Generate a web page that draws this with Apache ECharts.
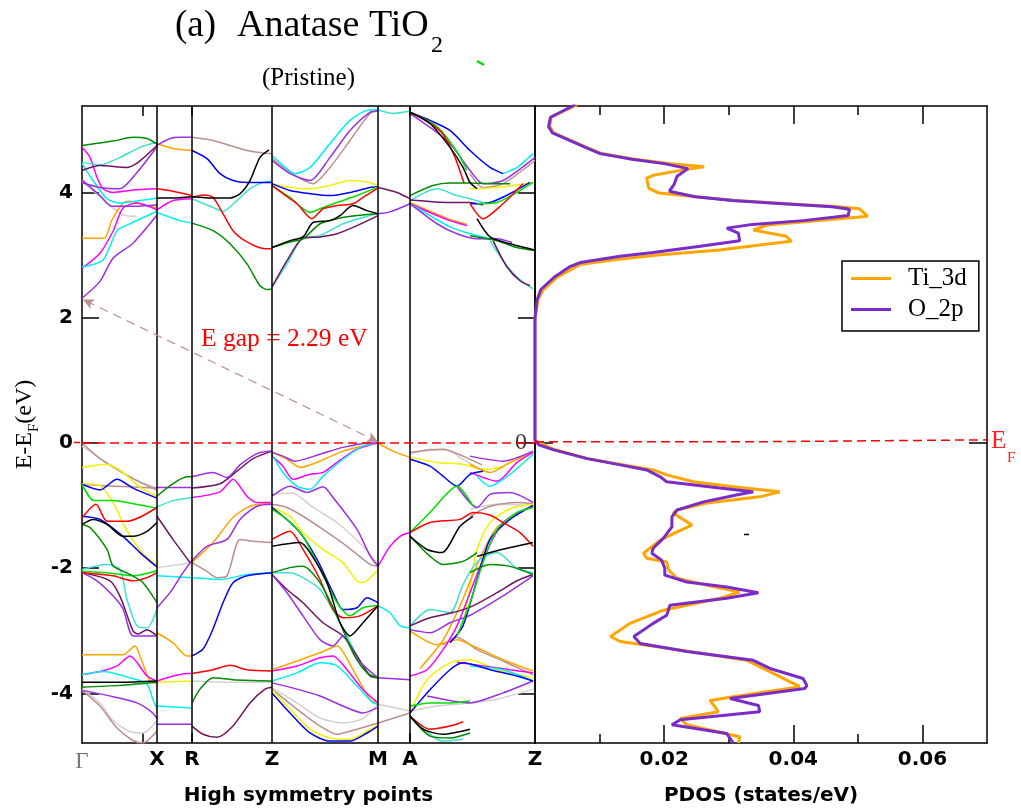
<!DOCTYPE html>
<html>
<head>
<meta charset="utf-8">
<script src="https://cdn.jsdelivr.net/npm/echarts@6/dist/echarts.min.js"></script>
<style>html,body{margin:0;padding:0;background:#fff;}#c{width:1021px;height:812px;}</style>
</head>
<body>
<div id="c"></div>
<script>
// ---------- axis data ----------
const kPoints = [0, 0.75, 1.10, 1.90, 2.96, 3.28, 4.53];
const kLabels = ['Γ', 'X', 'R', 'Z', 'M', 'A', 'Z'];
const kMinorTicks = [0.61, 1.10, 3.28];
const eTicks = [-4, -2, 0, 2, 4];
const pdosMajor = [0.02, 0.04, 0.06];
const pdosMinor = [0.01, 0.03, 0.05];
const eGap = 2.29;

// ---------- band structure (k, E) polylines grouped by colour ----------
const bandGray = [
  [[0,4.17],[0.18,3.93],[0.41,3.64],[0.55,3.62]],
  [[0,-0.05],[0.25,-0.32],[0.48,-0.55],[0.75,-0.72]],
  [[0.75,-1.99],[0.98,-1.94],[1.10,-1.91]],
  [[1.90,-0.82],[2.10,-0.80],[2.31,-1.03],[2.55,-1.27],[2.81,-1.65],[2.96,-1.94]],
  [[1.10,-3.80],[1.50,-3.82],[1.90,-3.82]],
  [[0,-3.93],[0.18,-4.15],[0.31,-4.43],[0.48,-4.61],[0.61,-4.63],[0.75,-4.43]],
  [[1.90,-3.91],[2.15,-4.15],[2.38,-4.39],[2.61,-4.47],[2.81,-4.40],[2.96,-4.17]],
  [[2.96,-4.17],[3.28,-4.28]],
  [[3.28,-0.18],[3.48,-0.10],[3.68,-0.13],[3.81,-0.26],[3.95,-0.39]],
  [[3.88,-1.06],[4.15,-0.98],[4.51,-1.00]],
  [[3.28,-4.28],[3.55,-4.20],[3.88,-4.15],[4.15,-4.09],[4.51,-3.93]]
];
const bandBrown = [
  [[1.10,4.88],[1.31,4.83],[1.48,4.75],[1.65,4.67],[1.81,4.63],[1.90,4.62]],
  [[1.90,4.54],[2.08,4.32],[2.31,4.14],[2.48,4.40],[2.68,4.83],[2.88,5.26],[2.96,5.30]],
  [[3.88,4.30],[4.01,4.08],[4.21,4.14],[4.53,4.51]],
  [[0,0.0],[0.18,-0.25],[0.31,-0.38],[0.55,-0.60],[0.75,-0.75]],
  [[0,-0.66],[0.18,-0.68],[0.48,-0.70],[0.75,-0.72]],
  [[1.10,-1.91],[1.25,-2.05],[1.35,-2.15],[1.45,-2.12],[1.58,-1.54],[1.71,-1.57],[1.90,-1.59]],
  [[1.90,-0.98],[2.05,-1.03],[2.21,-1.17],[2.41,-1.38],[2.65,-1.65],[2.88,-1.94],[2.96,-1.97]],
  [[0,-3.95],[0.18,-4.20],[0.35,-4.55],[0.51,-4.75],[0.61,-4.79],[0.75,-4.60]],
  [[1.90,-3.93],[2.15,-4.25],[2.38,-4.52],[2.55,-4.65],[2.75,-4.57],[2.96,-4.47]],
  [[2.96,-4.47],[3.28,-4.31]],
  [[3.28,-0.15],[3.61,-0.10],[3.81,-0.21],[4.00,-0.35]],
  [[3.88,-1.17],[4.08,-1.01],[4.35,-0.95],[4.51,-0.97]],
  [[3.61,-3.22],[3.75,-3.10],[3.95,-3.30],[4.21,-3.48],[4.51,-3.70]]
];
const bandYellow = [
  [[1.90,4.14],[2.08,4.08],[2.28,4.06],[2.48,4.11],[2.68,4.19],[2.88,4.16],[2.96,4.11]],
  [[3.88,4.06],[4.15,4.08],[4.51,4.16]],
  [[0,-0.39],[0.25,-0.34],[0.41,-0.47],[0.58,-0.71],[0.75,-0.85]],
  [[0,-0.65],[0.18,-0.68],[0.31,-0.95],[0.45,-1.40],[0.60,-1.75],[0.75,-1.95]],
  [[0.75,-3.82],[1.10,-3.80]],
  [[1.90,-1.03],[2.08,-1.17],[2.21,-1.43],[2.41,-1.70],[2.61,-1.91],[2.78,-2.23],[2.85,-2.20],[2.96,-2.02]],
  [[1.90,-3.93],[2.08,-4.25],[2.28,-4.57],[2.48,-4.71],[2.68,-4.73],[2.88,-4.57],[2.96,-4.50]],
  [[3.28,-0.23],[3.55,-0.31],[3.81,-0.34],[4.01,-0.42],[4.21,-0.37],[4.48,-0.15]],
  [[3.81,-2.92],[3.88,-2.30],[3.95,-1.70],[4.08,-1.27],[4.28,-1.05],[4.51,-0.98]],
  [[3.28,-4.31],[3.45,-3.78],[3.68,-3.51],[3.88,-3.46],[4.15,-3.62],[4.51,-3.75]]
];
const bandOrange = [
  [[0,3.27],[0.22,3.27],[0.30,3.56],[0.41,3.83],[0.48,3.86],[0.62,3.80],[0.75,3.75]],
  [[0.75,4.78],[0.91,4.70],[1.10,4.67]],
  [[3.28,3.84],[3.48,3.70],[3.68,3.57],[3.85,3.49]],
  [[0,-3.38],[0.41,-3.38],[0.53,-3.24],[0.58,-3.40],[0.68,-3.80],[0.75,-3.83]],
  [[0.75,-3.03],[0.91,-3.19],[1.05,-3.40],[1.10,-3.40]],
  [[1.10,-1.91],[1.31,-1.59],[1.51,-1.19],[1.68,-1.01],[1.90,-0.95]],
  [[1.90,-0.15],[2.05,-0.26],[2.18,-0.39],[2.38,-0.29],[2.61,-0.13],[2.88,-0.02],[2.96,0.0]],
  [[1.90,-3.62],[2.15,-3.48],[2.38,-3.35],[2.55,-3.24],[2.71,-3.62],[2.88,-4.09],[2.96,-4.15]],
  [[2.96,0.0],[3.11,-0.13],[3.28,-0.23]],
  [[3.88,-0.34],[4.08,-0.47],[4.28,-0.31],[4.51,-0.15]],
  [[3.38,-3.60],[3.61,-3.15],[3.78,-2.60],[3.95,-1.95],[4.15,-1.35],[4.51,-1.00]],
  [[3.28,-3.00],[3.55,-3.22],[3.75,-3.14],[3.95,-3.27],[4.21,-3.46],[4.51,-3.64]]
];
const bandMagenta = [
  [[0,4.72],[0.08,4.56],[0.15,4.24],[0.21,4.06],[0.31,4.00],[0.51,4.04],[0.75,4.06]],
  [[0,2.79],[0.18,3.03],[0.31,3.38],[0.41,3.75],[0.55,3.83],[0.75,3.72]],
  [[0.75,3.72],[0.91,3.87],[1.10,3.90]],
  [[3.28,3.82],[3.48,3.68],[3.68,3.55],[3.85,3.47]],
  [[0,-3.70],[0.18,-3.65],[0.35,-3.56],[0.48,-3.40],[0.65,-3.72],[0.75,-3.80]],
  [[0.75,-3.80],[0.91,-3.72],[1.05,-3.68],[1.10,-3.68]],
  [[1.10,-0.87],[1.38,-0.78],[1.51,-0.58],[1.65,-0.85],[1.75,-0.95],[1.90,-0.95]],
  [[1.90,-0.21],[2.01,-0.37],[2.11,-0.58],[2.28,-0.50],[2.41,-0.47],[2.55,-0.31],[2.75,-0.10],[2.96,0.0]],
  [[1.90,-3.64],[2.15,-3.56],[2.38,-3.43],[2.51,-3.40],[2.65,-3.62],[2.81,-3.94],[2.96,-4.15]],
  [[2.96,-1.97],[3.08,-1.65],[3.18,-1.49],[3.28,-1.43]],
  [[3.88,-0.47],[4.15,-0.61],[4.35,-0.31],[4.51,-0.15]],
  [[3.28,-3.72],[3.45,-3.62],[3.61,-3.30],[3.75,-2.92],[3.88,-2.39],[4.01,-1.86],[4.21,-1.27],[4.51,-1.00]],
  [[3.75,-3.50],[4.01,-3.56],[4.28,-3.62],[4.51,-3.67]]
];
const bandCyan = [
  [[0,4.46],[0.11,4.19],[0.25,3.90],[0.38,3.83],[0.58,3.87],[0.75,3.91]],
  [[0,2.81],[0.21,2.92],[0.35,3.39],[0.48,3.50],[0.75,3.70]],
  [[0.75,3.68],[0.98,3.55],[1.10,3.51]],
  [[1.90,4.59],[2.01,4.43],[2.13,4.30],[2.28,4.40],[2.48,4.78],[2.68,5.15],[2.85,5.31],[2.96,5.32]],
  [[4.21,4.30],[4.35,4.40],[4.51,4.62]],
  [[3.28,3.82],[3.48,3.63],[3.68,3.45],[3.88,3.34],[4.08,3.26]],
  [[1.90,-0.18],[2.01,-0.47],[2.15,-0.69],[2.28,-0.74],[2.41,-0.53],[2.61,-0.26],[2.81,-0.05],[2.96,0.0]],
  [[0.75,-2.12],[1.10,-2.15],[1.38,-2.18],[1.65,-2.10],[1.90,-2.07]],
  [[0,-3.70],[0.21,-3.65],[0.48,-3.75],[0.65,-3.85],[0.71,-4.10],[0.75,-4.25]],
  [[0.75,-4.20],[1.10,-4.23]],
  [[1.90,-3.80],[2.15,-3.67],[2.38,-3.51],[2.55,-3.56],[2.75,-3.88],[2.91,-4.15],[2.96,-4.17]],
  [[2.96,-2.60],[3.08,-2.71],[3.18,-2.92],[3.28,-2.95]],
  [[3.95,-0.53],[4.08,-0.69],[4.28,-0.50],[4.51,-0.18]],
  [[3.88,-3.56],[4.21,-3.62],[4.51,-3.80]]
];
const bandTurquoise = [
  [[0,4.48],[0.18,4.44],[0.38,4.56],[0.58,4.72],[0.75,4.80]],
  [[1.10,3.90],[1.31,3.76],[1.41,3.70],[1.55,3.87],[1.68,4.06],[1.81,4.16],[1.90,4.18]],
  [[1.90,2.49],[2.05,2.86],[2.20,3.26],[2.38,3.31],[2.61,3.50],[2.88,3.63],[2.96,3.66]],
  [[2.96,5.32],[3.11,5.26],[3.28,5.30]],
  [[3.28,3.87],[3.55,4.06],[3.75,3.95],[3.88,3.90],[4.01,3.84]],
  [[4.08,3.23],[4.21,2.91],[4.35,2.65],[4.51,2.46]],
  [[0,-2.02],[0.25,-1.94],[0.38,-2.02],[0.45,-2.50],[0.55,-2.92],[0.65,-2.95],[0.75,-2.65]],
  [[0.75,-1.02],[0.91,-0.92],[1.10,-0.87]],
  [[1.90,-2.07],[2.08,-2.07],[2.21,-2.15],[2.38,-2.34],[2.58,-2.87],[2.75,-3.40],[2.88,-3.70],[2.96,-3.75]],
  [[3.28,-2.92],[3.48,-2.66],[3.68,-2.71],[3.81,-2.26],[3.95,-1.90],[4.15,-1.75],[4.35,-2.00],[4.51,-2.07]],
  [[3.28,-4.36],[3.61,-4.76],[3.81,-4.73]]
];
const bandMaroon = [
  [[0,4.35],[0.18,4.43],[0.45,4.40],[0.56,4.48],[0.75,4.75]],
  [[1.90,2.49],[2.05,2.91],[2.20,3.26],[2.38,3.29],[2.55,3.34],[2.75,3.47],[2.96,3.63]],
  [[2.96,4.08],[3.15,4.00],[3.28,3.90]],
  [[3.28,3.88],[3.68,3.84],[3.88,3.84],[4.01,3.80]],
  [[4.11,3.23],[4.25,2.81],[4.38,2.59],[4.48,2.51]],
  [[0,-2.07],[0.28,-2.20],[0.38,-2.45],[0.51,-3.00],[0.56,-3.05],[0.65,-2.98],[0.75,-3.08]],
  [[0.75,-1.17],[0.91,-1.54],[1.08,-1.91]],
  [[1.10,-0.72],[1.38,-0.65],[1.55,-0.45],[1.71,-0.25],[1.90,-0.13]],
  [[1.10,-4.52],[1.21,-4.65],[1.35,-4.70],[1.51,-4.52],[1.68,-4.15],[1.83,-3.93],[1.90,-3.90]],
  [[1.90,-2.10],[2.05,-2.34],[2.21,-2.55],[2.41,-2.87],[2.61,-3.08],[2.75,-3.40],[2.88,-3.72],[2.96,-3.75]],
  [[3.28,-2.92],[3.48,-2.79],[3.68,-2.72],[3.88,-2.62],[4.15,-2.39],[4.35,-2.20],[4.51,-2.10]]
];
const bandViolet = [
  [[0,4.16],[0.18,4.08],[0.38,4.06],[0.55,4.32],[0.75,4.73]],
  [[0.75,4.75],[0.88,4.86],[0.98,4.88],[1.10,4.88]],
  [[0,4.20],[0.18,3.95],[0.30,3.78],[0.50,3.78],[0.75,3.80]],
  [[0,2.31],[0.18,2.58],[0.31,2.95],[0.51,3.19],[0.75,3.64]],
  [[1.90,4.51],[2.08,4.30],[2.28,4.19],[2.48,4.56],[2.68,4.99],[2.88,5.28],[2.96,5.30]],
  [[2.96,3.66],[3.08,3.69],[3.28,3.82]],
  [[3.28,5.26],[3.48,5.04],[3.68,4.78],[3.88,4.35],[4.01,4.14],[4.21,4.19],[4.53,4.56]],
  [[3.28,3.82],[3.55,3.50],[3.75,3.34],[3.95,3.26],[4.15,3.26],[4.30,3.20]],
  [[0,-2.07],[0.15,-2.20],[0.31,-2.44],[0.41,-2.65],[0.51,-3.08],[0.65,-3.08],[0.75,-3.08]],
  [[0,-3.95],[0.31,-4.05],[0.55,-4.15],[0.70,-4.30],[0.75,-4.40]],
  [[0.75,-0.71],[1.10,-0.71]],
  [[0.75,-4.49],[1.10,-4.49]],
  [[1.10,-0.54],[1.31,-0.47],[1.45,-0.55],[1.58,-0.35],[1.75,-0.17],[1.90,-0.13]],
  [[0.75,-2.63],[0.88,-2.39],[1.01,-2.07],[1.10,-1.88],[1.25,-1.65],[1.45,-1.54],[1.58,-1.22],[1.75,-1.01],[1.90,-0.98]],
  [[1.90,-0.15],[2.01,-0.21],[2.13,-0.29],[2.38,-0.18],[2.61,-0.07],[2.88,0.0],[2.96,0.0]],
  [[1.90,-0.85],[2.08,-0.69],[2.25,-0.79],[2.41,-0.70],[2.51,-0.87],[2.75,-1.38],[2.88,-1.80],[2.96,-1.97]],
  [[1.90,-2.10],[2.05,-2.39],[2.21,-2.76],[2.38,-3.14],[2.51,-3.24],[2.61,-3.08],[2.75,-3.45],[2.96,-3.75]],
  [[1.90,-3.83],[2.15,-3.93],[2.38,-4.04],[2.61,-4.20],[2.81,-4.31],[2.95,-4.23]],
  [[2.96,-3.75],[3.28,-3.78]],
  [[3.88,-0.21],[4.21,-0.29],[4.51,-0.13]],
  [[3.75,-0.69],[3.95,-1.03],[4.08,-0.82],[4.28,-0.79],[4.51,-0.95]],
  [[3.28,-2.98],[3.48,-3.03],[3.68,-2.87],[3.88,-2.75],[4.21,-2.44],[4.51,-2.12]],
  [[3.45,-4.04],[3.88,-4.15],[4.21,-3.99],[4.51,-3.80]]
];
const bandBlue = [
  [[1.10,4.67],[1.25,4.54],[1.38,4.30],[1.51,4.19],[1.65,4.16],[1.83,4.16],[1.90,4.16]],
  [[1.90,4.14],[2.08,4.03],[2.28,3.98],[2.48,3.95],[2.68,4.00],[2.88,4.08],[2.96,4.09]],
  [[3.28,5.28],[3.48,5.15],[3.68,4.99],[3.88,4.67],[4.08,4.40],[4.21,4.30]],
  [[3.88,3.82],[4.08,3.84],[4.28,3.98],[4.48,4.16]],
  [[0,-0.66],[0.18,-0.75],[0.35,-0.58],[0.51,-0.72],[0.75,-0.88]],
  [[0,-1.17],[0.18,-1.22],[0.41,-1.49],[0.58,-1.75],[0.75,-1.98]],
  [[1.10,-3.40],[1.21,-3.29],[1.31,-2.97],[1.41,-2.55],[1.51,-2.23],[1.65,-2.12],[1.90,-2.07]],
  [[1.90,-1.03],[2.01,-1.17],[2.18,-1.43],[2.35,-1.86],[2.51,-2.39],[2.61,-2.66],[2.75,-2.63],[2.85,-2.47],[2.96,-2.55]],
  [[1.90,-3.99],[2.08,-4.31],[2.28,-4.63],[2.48,-4.76],[2.68,-4.76],[2.85,-4.63],[2.96,-4.52]],
  [[3.28,-0.26],[3.48,-0.37],[3.61,-0.53],[3.75,-0.69],[3.88,-0.50],[4.01,-0.45]],
  [[3.68,-3.19],[3.81,-2.92],[3.95,-2.18],[4.08,-1.54],[4.28,-1.22],[4.51,-1.00]],
  [[3.28,-4.31],[3.48,-3.94],[3.68,-3.62],[3.81,-3.51],[4.08,-3.62],[4.35,-3.72],[4.51,-3.80]]
];
const bandGreen = [
  [[1.90,4.11],[2.08,3.92],[2.28,3.68],[2.38,3.74],[2.55,3.84],[2.75,3.95],[2.95,4.08]],
  [[3.28,5.28],[3.55,5.05],[3.75,4.65],[3.85,4.35]],
  [[3.95,3.82],[4.15,3.84],[4.35,4.00],[4.51,4.16]],
  [[0,-0.66],[0.12,-0.92],[0.31,-0.92],[0.51,-0.97],[0.75,-1.04]],
  [[0,-2.05],[0.25,-2.07],[0.51,-2.12],[0.75,-2.04]],
  [[1.90,-1.06],[2.05,-1.22],[2.21,-1.49],[2.38,-2.02],[2.55,-2.55],[2.68,-2.76],[2.81,-2.63],[2.96,-2.60]],
  [[3.28,-1.43],[3.48,-1.11],[3.75,-0.69],[3.91,-1.01]],
  [[3.75,-3.08],[3.88,-2.55],[4.01,-1.91],[4.15,-1.38],[4.35,-1.11],[4.51,-1.03]],
  [[3.28,-4.20],[3.48,-4.15],[3.68,-4.15],[3.88,-4.12]]
];
const bandRed = [
  [[0.75,4.06],[0.91,4.02],[1.10,3.95]],
  [[1.10,3.92],[1.21,3.96],[1.31,3.92],[1.41,3.66],[1.51,3.39],[1.65,3.21],[1.83,3.10],[1.90,3.10]],
  [[1.90,4.11],[2.01,3.98],[2.15,3.82],[2.30,3.58],[2.41,3.74],[2.55,3.79],[2.71,3.82],[2.81,3.92],[2.95,4.06]],
  [[3.28,5.28],[3.45,5.14],[3.60,4.95],[3.72,4.60],[3.82,4.15]],
  [[3.88,3.82],[4.01,3.58],[4.21,3.82],[4.41,4.14]],
  [[0,-1.20],[0.14,-0.98],[0.25,-1.25],[0.45,-1.25],[0.75,-1.03]],
  [[0,-2.07],[0.31,-2.12],[0.51,-2.20],[0.65,-2.15],[0.75,-2.07]],
  [[1.10,-3.68],[1.31,-3.62],[1.48,-3.55],[1.65,-3.62],[1.90,-3.64]],
  [[1.90,-1.54],[2.08,-1.41],[2.21,-1.70],[2.38,-2.18],[2.51,-2.66],[2.61,-2.79],[2.78,-2.76],[2.96,-2.60]],
  [[3.28,-1.43],[3.48,-1.27],[3.78,-1.22],[3.91,-1.11],[4.08,-1.15],[4.21,-1.27],[4.38,-1.43],[4.51,-1.65]],
  [[3.28,-4.36],[3.48,-4.57],[3.68,-4.52],[3.81,-4.45]]
];
const bandDarkGreen = [
  [[0,4.75],[0.31,4.82],[0.51,4.88],[0.65,4.86],[0.75,4.77]],
  [[1.10,3.51],[1.31,3.39],[1.48,3.18],[1.65,2.86],[1.78,2.51],[1.85,2.45],[1.90,2.46]],
  [[1.90,3.12],[2.08,3.21],[2.21,3.26],[2.38,3.50],[2.55,3.58],[2.75,3.63],[2.96,3.66]],
  [[3.28,3.95],[3.51,4.11],[3.68,4.15],[3.88,4.15],[4.08,4.14],[4.28,4.14]],
  [[3.88,3.31],[4.15,3.23],[4.35,3.12],[4.53,3.07]],
  [[0,-1.30],[0.08,-1.35],[0.25,-1.70],[0.31,-1.96],[0.48,-2.10],[0.61,-2.23],[0.75,-2.55]],
  [[0,-3.90],[0.38,-3.87],[0.75,-3.82]],
  [[0.75,-0.85],[0.91,-0.65],[1.05,-0.54],[1.10,-0.54]],
  [[1.10,-4.15],[1.18,-3.93],[1.31,-3.75],[1.51,-3.78],[1.90,-3.80]],
  [[1.90,-2.07],[2.08,-1.99],[2.21,-1.97],[2.38,-2.23],[2.55,-2.76],[2.71,-3.35],[2.85,-3.67],[2.96,-3.75]],
  [[3.28,-1.49],[3.48,-1.81],[3.61,-1.94],[3.81,-1.89],[3.95,-1.75]],
  [[3.88,-2.07],[4.08,-1.94],[4.28,-1.97],[4.51,-2.10]],
  [[3.28,-4.36],[3.48,-4.68],[3.68,-4.71],[3.88,-4.63]]
];
const bandBlack = [
  [[0.75,3.91],[0.91,3.91],[1.10,3.93],[1.31,3.91],[1.48,3.91],[1.58,3.98],[1.68,4.19],[1.78,4.56],[1.87,4.68]],
  [[1.90,3.12],[2.08,3.23],[2.21,3.29],[2.31,3.52],[2.48,3.55],[2.58,3.63],[2.71,3.79],[2.85,3.71],[2.96,3.66]],
  [[3.28,5.28],[3.48,5.10],[3.68,4.72],[3.81,4.40],[3.88,4.16],[3.95,4.06]],
  [[3.95,3.58],[4.08,3.29],[4.28,3.18],[4.48,3.10],[4.53,3.08]],
  [[0,-1.30],[0.11,-1.22],[0.25,-1.30],[0.41,-1.49],[0.51,-1.49],[0.65,-1.41],[0.75,-1.27]],
  [[0,-3.82],[0.38,-3.82],[0.75,-3.80]],
  [[1.90,-1.65],[2.18,-1.59],[2.28,-1.75],[2.45,-2.23],[2.58,-2.87],[2.68,-3.08],[2.81,-2.87],[2.96,-2.60]],
  [[3.28,-1.49],[3.45,-1.70],[3.60,-1.75],[3.78,-1.33],[3.91,-1.17]],
  [[3.95,-1.81],[4.15,-1.72],[4.51,-1.59]],
  [[3.28,-4.36],[3.41,-4.57],[3.61,-4.65],[3.88,-4.57]]
];

// ---------- PDOS (states/eV, E) ----------
const ti3d = [
  [0.0065,5.40],[0.0025,5.20],[0.0023,5.05],[0.0029,4.95],[0.0080,4.72],[0.0103,4.62],[0.0155,4.53],
  [0.0210,4.46],[0.0262,4.41],[0.0230,4.36],[0.0185,4.28],[0.0173,4.23],[0.0176,4.07],[0.0192,3.99],
  [0.0250,3.93],[0.0310,3.87],[0.0390,3.82],[0.0470,3.77],[0.0502,3.74],[0.0515,3.62],[0.0440,3.55],
  [0.0360,3.48],[0.0338,3.40],[0.0389,3.30],[0.0397,3.22],[0.0348,3.16],[0.0286,3.08],[0.0190,3.00],
  [0.0120,2.92],[0.0070,2.85],[0.0035,2.65],[0.0013,2.45],[0.0005,2.30],[0.0,2.0],[0.0,0.04],
  [0.0029,-0.10],[0.0081,-0.25],[0.0183,-0.43],[0.0204,-0.51],[0.0245,-0.62],[0.0307,-0.70],
  [0.0379,-0.78],[0.0348,-0.86],[0.0266,-0.96],[0.0220,-1.07],[0.0214,-1.12],[0.0243,-1.31],
  [0.0220,-1.42],[0.0194,-1.55],[0.0168,-1.76],[0.0173,-1.84],[0.0204,-1.90],[0.0207,-2.03],
  [0.0220,-2.16],[0.0266,-2.27],[0.0317,-2.38],[0.0286,-2.48],[0.0199,-2.67],[0.0147,-2.88],
  [0.0117,-3.09],[0.0132,-3.17],[0.0209,-3.28],[0.0328,-3.47],[0.0348,-3.57],[0.0410,-3.89],
  [0.0307,-4.05],[0.0271,-4.11],[0.0284,-4.29],[0.0225,-4.40],[0.0235,-4.50],[0.0317,-4.69],[0.0315,-4.79]
];
const o2p = [
  [0.0062,5.40],[0.0024,5.20],[0.0021,5.05],[0.0027,4.95],[0.0078,4.72],[0.0101,4.62],[0.0150,4.53],
  [0.0200,4.46],[0.0237,4.38],[0.0220,4.26],[0.0215,4.12],[0.0208,4.02],[0.0248,3.93],[0.0306,3.87],
  [0.0384,3.82],[0.0460,3.77],[0.0487,3.73],[0.0485,3.63],[0.0415,3.55],[0.0337,3.49],[0.0297,3.43],
  [0.0315,3.35],[0.0317,3.23],[0.0256,3.14],[0.0183,3.04],[0.0132,2.98],[0.0070,2.88],[0.0055,2.82],
  [0.0030,2.65],[0.0009,2.45],[0.0003,2.28],[0.0,2.0],[0.0,0.04],[0.0006,-0.03],[0.0029,-0.11],
  [0.0081,-0.25],[0.0132,-0.35],[0.0173,-0.43],[0.0194,-0.54],[0.0204,-0.62],[0.0286,-0.72],
  [0.0338,-0.78],[0.0312,-0.83],[0.0261,-0.94],[0.0220,-1.07],[0.0212,-1.18],[0.0212,-1.34],
  [0.0199,-1.52],[0.0183,-1.68],[0.0181,-1.76],[0.0196,-1.87],[0.0201,-2.00],[0.0201,-2.11],
  [0.0235,-2.22],[0.0297,-2.30],[0.0346,-2.39],[0.0297,-2.48],[0.0209,-2.59],[0.0204,-2.75],
  [0.0183,-2.88],[0.0153,-3.09],[0.0163,-3.20],[0.0235,-3.33],[0.0338,-3.47],[0.0364,-3.60],
  [0.0415,-3.76],[0.0421,-3.87],[0.0418,-3.92],[0.0302,-4.08],[0.0346,-4.19],[0.0348,-4.29],
  [0.0225,-4.42],[0.0212,-4.50],[0.0297,-4.64],[0.0307,-4.79]
];

// ---------- chart ----------
const E_MIN = -4.79, E_MAX = 5.38, K_MAX = 4.53, P_MAX = 0.07;
const SERIF = 'Liberation Serif';
const SANS = 'DejaVu Sans';
const axisLine = { show: true, onZero: false, lineStyle: { color: '#000', width: 1.5 } };
const noLine = { show: false, onZero: false };

const bandGroups = [
  [bandGray, '#d2d2d2'], [bandBrown, '#bc8f8f'], [bandYellow, '#f2f200'],
  [bandOrange, '#ffa500'], [bandMagenta, '#ff00ff'], [bandCyan, '#00f0f0'],
  [bandTurquoise, '#40e0d0'], [bandMaroon, '#6e1460'], [bandViolet, '#9b30e0'],
  [bandBlue, '#0000ff'], [bandGreen, '#00e000'], [bandRed, '#ff0000'],
  [bandDarkGreen, '#008b00'], [bandBlack, '#000000']
];

const series = [];
bandGroups.forEach(([lines, color]) => {
  lines.forEach(pts => series.push({
    type: 'line', xAxisIndex: 0, yAxisIndex: 0, data: pts,
    showSymbol: false, smooth: 0.25, silent: true, z: 2,
    lineStyle: { color, width: 1.5 }
  }));
});
// symmetry lines
kPoints.slice(1, -1).forEach(k => series.push({
  type: 'line', xAxisIndex: 0, yAxisIndex: 0, data: [[k, E_MIN], [k, E_MAX]],
  showSymbol: false, silent: true, z: 4, lineStyle: { color: '#000', width: 1.5 }
}));
// Fermi level + gap arrow
series.push({
  type: 'line', xAxisIndex: 0, yAxisIndex: 0, data: [[0, 0], [K_MAX, 0]],
  showSymbol: false, silent: true, z: 5, lineStyle: { color: '#ff0000', width: 1.5, type: [9, 5] },
  markLine: {
    silent: true, symbol: ['arrow', 'arrow'], symbolSize: [8, 11],
    label: { show: false },
    lineStyle: { color: '#bc8f8f', width: 1.2, type: [9, 6] },
    data: [[{ coord: [kPoints[4], 0.02] }, { coord: [0.01, eGap] }]]
  }
});
series.push({
  type: 'line', xAxisIndex: 2, yAxisIndex: 2,
  data: [[0, 0.02], [0.0343, 0.02], [0.0346, 0.05], [P_MAX, 0.05]],
  showSymbol: false, silent: true, z: 5, lineStyle: { color: '#ff0000', width: 1.5, type: [9, 5] }
});
// PDOS
series.push({
  name: 'Ti_3d', type: 'line', xAxisIndex: 2, yAxisIndex: 2, data: ti3d,
  showSymbol: false, z: 3, lineStyle: { color: '#ffa500', width: 3 }, itemStyle: { color: '#ffa500' }
});
series.push({
  name: 'O_2p', type: 'line', xAxisIndex: 2, yAxisIndex: 2, data: o2p,
  showSymbol: false, z: 4, lineStyle: { color: '#7a2cc8', width: 3 }, itemStyle: { color: '#7a2cc8' }
});

const tick = (vals, len) => ({ show: true, customValues: vals, inside: true, length: len, lineStyle: { color: '#000', width: 1.5 } });

const option = {
  animation: false,
  backgroundColor: '#fff',
  grid: [
    { left: 82, top: 106, width: 453, height: 637 },
    { left: 535, top: 106, width: 452, height: 637 }
  ],
  xAxis: [
    { gridIndex: 0, type: 'value', min: 0, max: K_MAX, position: 'bottom',
      axisLine, splitLine: { show: false }, axisTick: tick(kMinorTicks, 10),
      axisLabel: { customValues: kPoints, showMinLabel: true, showMaxLabel: true, margin: 7,
        formatter: v => { const i = kPoints.findIndex(p => Math.abs(p - v) < 1e-6); return i === 0 ? '{g|Γ}' : '{b|' + kLabels[i] + '}'; },
        rich: { g: { fontFamily: SERIF, fontSize: 23, color: '#777' }, b: { fontFamily: SANS, fontWeight: 'bold', fontSize: 20, color: '#000' } } },
      name: 'High symmetry points', nameLocation: 'middle', nameGap: 43,
      nameTextStyle: { fontFamily: SANS, fontWeight: 'bold', fontSize: 20, color: '#000' } },
    { gridIndex: 0, type: 'value', min: 0, max: K_MAX, position: 'top',
      axisLine, splitLine: { show: false }, axisLabel: { show: false }, axisTick: tick(kMinorTicks, 10) },
    { gridIndex: 1, type: 'value', min: 0, max: P_MAX, position: 'bottom',
      axisLine, splitLine: { show: false }, axisTick: tick(pdosMajor, 18),
      axisLabel: { customValues: pdosMajor, margin: 7, formatter: v => v.toFixed(2),
        fontFamily: SANS, fontWeight: 'bold', fontSize: 20, color: '#000' },
      name: 'PDOS (states/eV)', nameLocation: 'middle', nameGap: 43,
      nameTextStyle: { fontFamily: SANS, fontWeight: 'bold', fontSize: 20, color: '#000' } },
    { gridIndex: 1, type: 'value', min: 0, max: P_MAX, position: 'top',
      axisLine, splitLine: { show: false }, axisLabel: { show: false }, axisTick: tick(pdosMajor, 18) },
    { gridIndex: 1, type: 'value', min: 0, max: P_MAX, position: 'bottom',
      axisLine: noLine, splitLine: { show: false }, axisLabel: { show: false }, axisTick: tick(pdosMinor, 9) },
    { gridIndex: 1, type: 'value', min: 0, max: P_MAX, position: 'top',
      axisLine: noLine, splitLine: { show: false }, axisLabel: { show: false }, axisTick: tick(pdosMinor, 9) }
  ],
  yAxis: [
    { gridIndex: 0, type: 'value', min: E_MIN, max: E_MAX, position: 'left',
      axisLine, splitLine: { show: false }, axisTick: tick(eTicks, 17),
      axisLabel: { customValues: eTicks, margin: 9, fontFamily: SANS, fontWeight: 'bold', fontSize: 20, color: '#000' },
      name: '{n|E-E}{s|F}{n|(eV)}', nameLocation: 'middle', nameRotate: 90, nameGap: 40,
      nameTextStyle: { rich: {
        n: { fontFamily: SERIF, fontSize: 24, color: '#000', lineHeight: 34 },
        s: { fontFamily: SERIF, fontSize: 15, color: '#000', lineHeight: 15, verticalAlign: 'bottom' } } } },
    { gridIndex: 0, type: 'value', min: E_MIN, max: E_MAX, position: 'right',
      axisLine, splitLine: { show: false }, axisLabel: { show: false }, axisTick: tick(eTicks, 17) },
    { gridIndex: 1, type: 'value', min: E_MIN, max: E_MAX, position: 'left',
      axisLine, splitLine: { show: false }, axisTick: tick([0], 18),
      axisLabel: { customValues: [0], margin: 8, fontFamily: SERIF, fontSize: 24, color: '#333' } },
    { gridIndex: 1, type: 'value', min: E_MIN, max: E_MAX, position: 'right',
      axisLine, splitLine: { show: false }, axisLabel: { show: false }, axisTick: tick([0], 18) }
  ],
  legend: {
    data: ['Ti_3d', 'O_2p'], orient: 'vertical', left: 842, top: 261,
    icon: 'rect', itemWidth: 40, itemHeight: 3, itemGap: 6,
    padding: [5, 12, 9, 9],
    borderColor: '#000', borderWidth: 1.5, borderRadius: 0, backgroundColor: '#fff',
    textStyle: { fontFamily: SERIF, fontSize: 25, color: '#000', lineHeight: 25, padding: [0, 0, 0, 12] },
    selectedMode: false
  },
  graphic: [
    { type: 'text', left: 175, top: 8, style: { text: '(a)', font: '37px "Liberation Serif"', fill: '#000' } },
    { type: 'text', left: 237, top: 7, style: { text: 'Anatase TiO', font: '38px "Liberation Serif"', fill: '#000' } },
    { type: 'text', left: 431, top: 34, style: { text: '2', font: '24px "Liberation Serif"', fill: '#000' } },
    { type: 'text', left: 262, top: 66, style: { text: '(Pristine)', font: '25px "Liberation Serif"', fill: '#000' } },
    { type: 'line', shape: { x1: 477, y1: 61, x2: 484, y2: 65 }, style: { stroke: '#00dd00', lineWidth: 2.5 } },
    { type: 'line', shape: { x1: 74, y1: 442.5, x2: 82, y2: 442.5 }, style: { stroke: '#ff0000', lineWidth: 1.5, lineDash: [6, 3] } },
    { type: 'text', left: 201, top: 326, style: { text: 'E gap = 2.29 eV', font: '25.5px "Liberation Serif"', fill: '#ff0000' } },
    { type: 'text', left: 991, top: 429, style: { text: 'E', font: '25px "Liberation Serif"', fill: '#ff2020' } },
    { type: 'text', left: 1007, top: 451, style: { text: 'F', font: '15px "Liberation Serif"', fill: '#ff2020' } },
    { type: 'line', shape: { x1: 744, y1: 534.5, x2: 749, y2: 534.5 }, style: { stroke: '#000', lineWidth: 1.5 } }
  ],
  series
};

const chart = echarts.init(document.getElementById('c'), null, { renderer: 'canvas' });
chart.setOption(option);
</script>
</body>
</html>
